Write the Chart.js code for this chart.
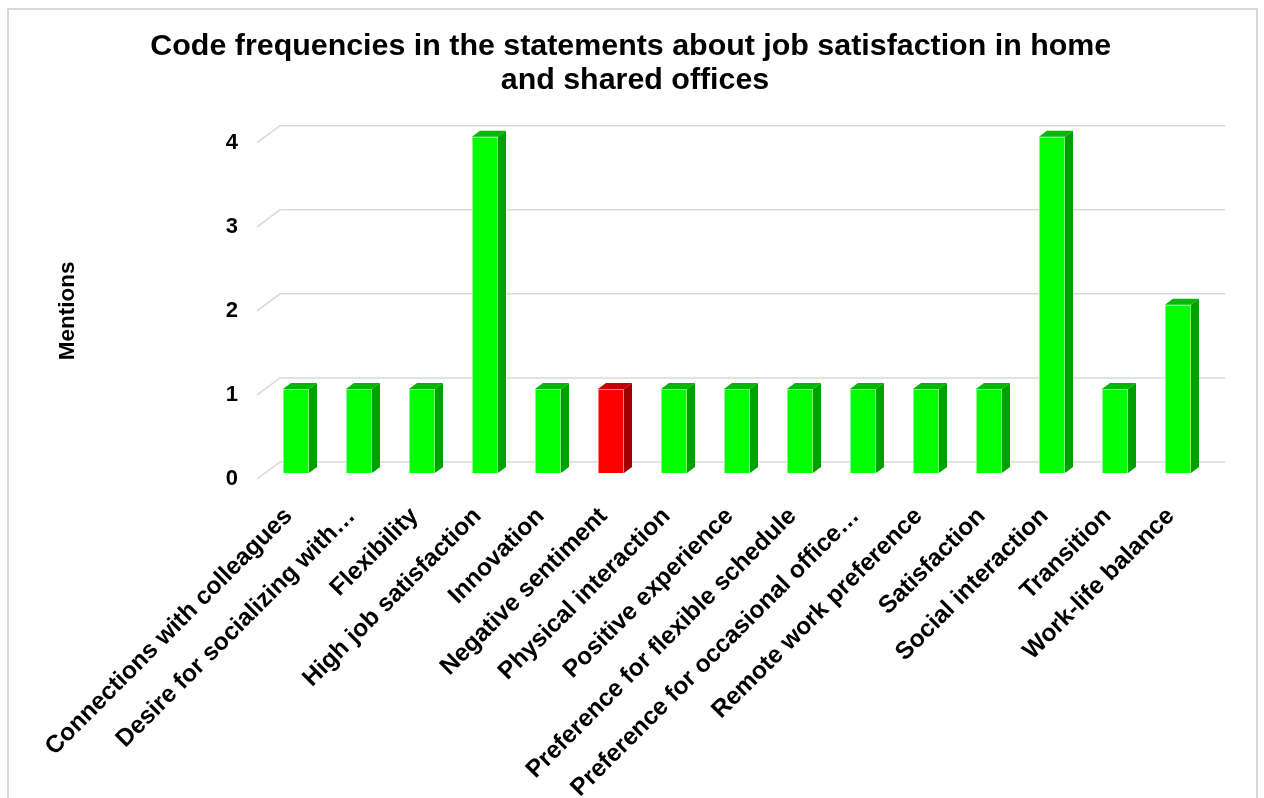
<!DOCTYPE html>
<html>
<head>
<meta charset="utf-8">
<script src="https://cdn.jsdelivr.net/npm/chart.js@4"></script>
<style>
  html, body { margin: 0; padding: 0; background: #fff; }
  #wrap { position: absolute; left: 0; top: 0; width: 1264px; height: 798px; }
</style>
</head>
<body>
<div id="wrap"><canvas id="codeChart" width="1264" height="798"></canvas></div>
<script>
const categories = [
    'Connections with colleagues',
    'Desire for socializing with\u2026',
    'Flexibility',
    'High job satisfaction',
    'Innovation',
    'Negative sentiment',
    'Physical interaction',
    'Positive experience',
    'Preference for flexible schedule',
    'Preference for occasional office\u2026',
    'Remote work preference',
    'Satisfaction',
    'Social interaction',
    'Transition',
    'Work-life balance'
];
const mentions = [1, 1, 1, 4, 1, 1, 1, 1, 1, 1, 1, 1, 4, 1, 2];
const negativeCodes = ['Negative sentiment'];
const yTicks = [0, 1, 2, 3, 4];

const FONT = '"Liberation Sans", Arial, sans-serif';

// depth of the back wall and where the bars sit inside it
const WALL_DX = 23, WALL_DY = -17;
const BAR_DX = 7.5, BAR_DY = -6;
const SIDE_DX = 8, SIDE_DY = -6;

const isNeg = i => negativeCodes.includes(categories[i]);
const frontColors = mentions.map((v, i) => isNeg(i) ? '#ff0000' : '#00ff00');
const sideColors = mentions.map((v, i) => isNeg(i) ? '#a00000' : '#00a000');
const topColors = mentions.map((v, i) => isNeg(i) ? '#c40000' : '#00b800');
const edgeColors = mentions.map((v, i) => isNeg(i) ? '#ff8080' : '#80ff80');

const frame = {
    id: 'frame',
    beforeDraw(chart) {
        const c = chart.ctx;
        c.save();
        c.fillStyle = '#fff';
        c.fillRect(0, 0, chart.width, chart.height);
        c.strokeStyle = '#d9d9d9';
        c.lineWidth = 2;
        c.strokeRect(8, 9, 1249, 800);
        c.restore();
    }
};

// back wall gridlines with the short slanted lead-in from the axis
const wallGrid = {
    id: 'wallGrid',
    beforeDatasetsDraw(chart) {
        const c = chart.ctx;
        const area = chart.chartArea;
        const y = chart.scales.y;
        c.save();
        c.strokeStyle = '#d9d9d9';
        c.lineWidth = 1.5;
        yTicks.forEach(t => {
            const py = y.getPixelForValue(t);
            c.beginPath();
            c.moveTo(area.left, py);
            c.lineTo(area.left + WALL_DX, py + WALL_DY);
            c.lineTo(area.right + WALL_DX, py + WALL_DY);
            c.stroke();
        });
        c.restore();
    }
};

// pushes the bars into the wall and adds their top and side faces
const bars3d = {
    id: 'bars3d',
    beforeDatasetsDraw(chart) {
        chart.ctx.save();
        chart.ctx.translate(BAR_DX, BAR_DY);
    },
    afterDatasetsDraw(chart) {
        const c = chart.ctx;
        const meta = chart.getDatasetMeta(0);
        meta.data.forEach((bar, i) => {
            const p = bar.getProps(['x', 'y', 'base', 'width'], true);
            const l = p.x - p.width / 2, r = p.x + p.width / 2;
            c.fillStyle = sideColors[i];
            c.beginPath();
            c.moveTo(r, p.y);
            c.lineTo(r + SIDE_DX, p.y + SIDE_DY);
            c.lineTo(r + SIDE_DX, p.base + SIDE_DY);
            c.lineTo(r, p.base);
            c.closePath();
            c.fill();
            c.fillStyle = topColors[i];
            c.beginPath();
            c.moveTo(l, p.y);
            c.lineTo(l + SIDE_DX, p.y + SIDE_DY);
            c.lineTo(r + SIDE_DX, p.y + SIDE_DY);
            c.lineTo(r, p.y);
            c.closePath();
            c.fill();
        });
        c.restore();
    }
};

const ctx = document.getElementById('codeChart').getContext('2d');
const chart = new Chart(ctx, {
    type: 'bar',
    data: {
        labels: categories,
        datasets: [{
            label: 'Mentions',
            data: mentions,
            backgroundColor: frontColors,
            borderColor: edgeColors,
            borderWidth: 1,
            categoryPercentage: 1,
            barPercentage: 0.413,
            clip: false
        }]
    },
    plugins: [frame, wallGrid, bars3d],
    options: {
        responsive: false,
        animation: false,
        layout: { padding: { left: 68, right: 62, top: 0, bottom: 0 } },
        plugins: {
            legend: { display: false },
            tooltip: { enabled: false },
            title: {
                display: true,
                text: ['Code frequencies in the statements about job satisfaction in home ', 'and shared offices'],
                color: '#000',
                font: { family: FONT, size: 30.4, weight: 'bold', lineHeight: 1.13 },
                padding: { top: 29, bottom: 45 }
            }
        },
        scales: {
            x: {
                grid: { display: false },
                border: { display: false },
                ticks: {
                    autoSkip: false,
                    minRotation: 45,
                    maxRotation: 45,
                    padding: 15,
                    labelOffset: 0,
                    color: '#000',
                    font: { family: FONT, size: 24.5, weight: 'bold' }
                },
                afterFit(scale) { scale.height = 319; }
            },
            y: {
                min: 0,
                max: 4,
                grid: { display: false, drawTicks: false },
                border: { display: false },
                ticks: {
                    stepSize: 1,
                    padding: 19,
                    color: '#000',
                    font: { family: FONT, size: 22, weight: 'bold' }
                },
                title: {
                    display: true,
                    text: 'Mentions',
                    color: '#000',
                    font: { family: FONT, size: 22.5, weight: 'bold' },
                    padding: { top: -14, bottom: 0 }
                },
                afterFit(scale) { scale.width = 189; }
            }
        }
    }
});
</script>
</body>
</html>
